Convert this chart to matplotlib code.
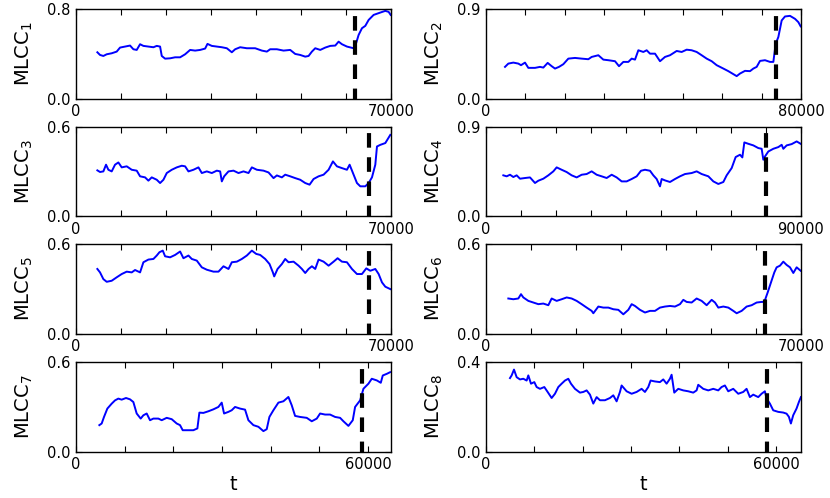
import matplotlib
matplotlib.use("Agg")
import matplotlib.pyplot as plt
from matplotlib.ticker import FixedLocator, FuncFormatter

# ---------------- data ----------------
t1 = [4746, 5339, 6080, 6822, 7934, 9046, 9788, 10900, 12012, 12754, 13495, 14237, 14978, 16090,
      17203, 17944, 18686, 19057, 19798, 20910, 22023, 23135, 24247, 25359, 26471, 27584, 28696,
      29215, 30179, 31291, 32403, 33515, 34627, 35369, 36481, 37965, 39818, 41302, 42414, 43155,
      44638, 46121, 47604, 48717, 49829, 50941, 51683, 52424, 53165, 54278, 55390, 56502, 57615,
      58356, 59098, 60210, 61693, 62286, 62805, 63547, 64288, 65030, 66142, 67625, 68737, 69478, 69923]
v1 = [0.415, 0.391, 0.382, 0.397, 0.406, 0.421, 0.457, 0.466, 0.475, 0.442, 0.436, 0.487, 0.472, 0.466,
      0.460, 0.472, 0.466, 0.382, 0.358, 0.361, 0.370, 0.370, 0.397, 0.436, 0.430, 0.436, 0.448,
      0.490, 0.472, 0.466, 0.460, 0.451, 0.415, 0.442, 0.460, 0.451, 0.451, 0.430, 0.421, 0.442,
      0.442, 0.430, 0.436, 0.400, 0.391, 0.376, 0.382, 0.421, 0.451, 0.436, 0.457, 0.472, 0.475,
      0.510, 0.487, 0.466, 0.451, 0.501, 0.570, 0.630, 0.651, 0.704, 0.749, 0.770, 0.785, 0.776, 0.749]

t2 = [4826, 5672, 6942, 8212, 8889, 9905, 10752, 12445, 13715, 14562, 15662, 16678, 17525, 18541,
      19641, 20911, 22604, 24297, 25991, 26837, 28530, 29800, 31070, 32763, 33779, 34880, 36150,
      36996, 37843, 38690, 39960, 40806, 41653, 42923, 44193, 45462, 46732, 48426, 49695, 50965,
      52235, 53505, 54775, 56045, 57315, 58585, 60278, 61548, 62818, 63664, 64511, 65781, 67051,
      67897, 68744, 69591, 70860, 72130, 72977, 73570, 74247, 75093, 75940, 77210, 78480, 79326, 79919]
v2 = [0.320, 0.353, 0.363, 0.353, 0.337, 0.363, 0.310, 0.310, 0.320, 0.313, 0.360, 0.327, 0.303, 0.320,
      0.347, 0.403, 0.410, 0.403, 0.397, 0.420, 0.437, 0.393, 0.387, 0.377, 0.327, 0.370, 0.370,
      0.403, 0.393, 0.487, 0.470, 0.487, 0.453, 0.453, 0.377, 0.420, 0.437, 0.480, 0.470, 0.493,
      0.487, 0.470, 0.437, 0.403, 0.377, 0.337, 0.303, 0.277, 0.247, 0.227, 0.253, 0.280, 0.277,
      0.303, 0.320, 0.380, 0.387, 0.370, 0.370, 0.553, 0.620, 0.787, 0.827, 0.833, 0.803, 0.770, 0.727]

t3 = [4746, 5339, 6080, 6674, 7193, 7934, 8676, 9417, 10159, 11271, 12383, 13495, 14237, 15349,
      16090, 16832, 17944, 18686, 19427, 20169, 21281, 22393, 23506, 24247, 24989, 26101, 27213,
      27955, 29067, 30179, 31291, 32033, 32404, 32923, 33886, 34999, 36111, 37223, 38336, 39077,
      40189, 41673, 42785, 43897, 44638, 45751, 46492, 47604, 48717, 49829, 50941, 51905, 52795,
      53907, 55019, 56132, 57096, 57985, 59098, 60210, 60803, 61545, 62434, 63176, 64288, 65030,
      65771, 66513, 66884, 67625, 68737, 69849]
v3 = [0.308, 0.297, 0.301, 0.346, 0.312, 0.301, 0.346, 0.361, 0.328, 0.335, 0.312, 0.306, 0.268, 0.261,
      0.239, 0.261, 0.245, 0.223, 0.245, 0.290, 0.312, 0.328, 0.339, 0.335, 0.301, 0.312, 0.328,
      0.290, 0.301, 0.290, 0.306, 0.301, 0.234, 0.268, 0.301, 0.306, 0.290, 0.301, 0.290, 0.328,
      0.312, 0.306, 0.294, 0.256, 0.274, 0.261, 0.279, 0.268, 0.256, 0.245, 0.223, 0.212, 0.250,
      0.268, 0.279, 0.312, 0.368, 0.335, 0.323, 0.312, 0.346, 0.290, 0.223, 0.201, 0.201, 0.223,
      0.261, 0.346, 0.468, 0.479, 0.491, 0.546]

t4 = [4952, 5905, 6857, 7810, 8762, 9714, 11143, 12572, 14000, 14953, 16381, 17810, 19238, 20191,
      21619, 23048, 24477, 25905, 27334, 28762, 30191, 31620, 33048, 34477, 35905, 37334, 38763,
      40191, 41620, 43048, 44287, 45429, 46858, 47810, 48763, 49715, 50191, 51144, 52572, 54001,
      55430, 56858, 58763, 60192, 61620, 63525, 64954, 66382, 67811, 68763, 70192, 71335, 72573,
      73240, 73811, 74954, 76382, 77811, 78763, 79240, 79716, 80668, 82097, 83525, 84478, 84954,
      85907, 87335, 88764, 89907]
v4 = [0.412, 0.402, 0.418, 0.395, 0.412, 0.378, 0.385, 0.391, 0.335, 0.358, 0.378, 0.412, 0.452, 0.492,
      0.468, 0.445, 0.412, 0.391, 0.418, 0.425, 0.452, 0.418, 0.402, 0.385, 0.418, 0.391, 0.351,
      0.351, 0.375, 0.402, 0.458, 0.468, 0.458, 0.412, 0.375, 0.301, 0.375, 0.361, 0.345, 0.375,
      0.402, 0.425, 0.435, 0.452, 0.425, 0.402, 0.351, 0.325, 0.345, 0.412, 0.485, 0.596, 0.619,
      0.592, 0.743, 0.729, 0.713, 0.686, 0.679, 0.569, 0.602, 0.652, 0.679, 0.696, 0.719, 0.679,
      0.713, 0.726, 0.753, 0.729]

t5 = [4746, 5339, 6080, 6822, 7934, 9046, 10159, 11271, 12383, 13125, 14237, 14978, 16090, 17203,
      17944, 18538, 19279, 19798, 20910, 22023, 23135, 23876, 24989, 25730, 26842, 27955, 29067,
      30550, 31662, 32774, 33886, 34627, 35740, 36852, 37965, 39077, 40041, 40931, 42043, 43007,
      43749, 44045, 44787, 45751, 46492, 47234, 48346, 49458, 50200, 50941, 51683, 52424, 53166,
      53907, 55019, 56132, 57244, 58134, 59098, 60210, 61322, 62434, 63547, 64511, 65400, 66513,
      67254, 67996, 68737, 69849]
v5 = [0.434, 0.411, 0.366, 0.348, 0.355, 0.378, 0.400, 0.416, 0.411, 0.427, 0.411, 0.479, 0.497, 0.501,
      0.524, 0.546, 0.557, 0.519, 0.512, 0.528, 0.551, 0.506, 0.524, 0.501, 0.490, 0.445, 0.429,
      0.416, 0.416, 0.452, 0.434, 0.479, 0.483, 0.501, 0.524, 0.557, 0.535, 0.528, 0.501, 0.467,
      0.411, 0.384, 0.434, 0.467, 0.501, 0.479, 0.483, 0.456, 0.434, 0.407, 0.434, 0.452, 0.434,
      0.497, 0.483, 0.456, 0.483, 0.506, 0.483, 0.479, 0.434, 0.400, 0.400, 0.438, 0.422, 0.434,
      0.400, 0.344, 0.315, 0.299]

t6 = [4963, 6074, 7185, 7777, 8296, 9407, 10518, 11629, 12740, 13851, 14592, 15703, 16814, 17925,
      19036, 20147, 21258, 22369, 23480, 23851, 24962, 26073, 27184, 28295, 29406, 30517, 31628,
      32369, 33109, 34220, 35331, 36442, 37553, 38665, 39776, 40887, 41998, 43109, 43849, 44590,
      45701, 46812, 47923, 49034, 50145, 50886, 51627, 52738, 53849, 54960, 55701, 56812, 57923,
      59034, 60145, 61256, 61848, 62589, 63330, 64071, 64589, 65330, 66070, 66811, 67552, 68293,
      69033, 69922]
v6 = [0.236, 0.231, 0.236, 0.265, 0.243, 0.220, 0.209, 0.198, 0.202, 0.191, 0.236, 0.220, 0.231, 0.243,
      0.236, 0.220, 0.198, 0.175, 0.153, 0.137, 0.182, 0.175, 0.175, 0.164, 0.160, 0.130, 0.160,
      0.198, 0.186, 0.160, 0.142, 0.153, 0.153, 0.175, 0.182, 0.186, 0.182, 0.198, 0.227, 0.213,
      0.209, 0.236, 0.220, 0.191, 0.227, 0.209, 0.175, 0.182, 0.175, 0.153, 0.137, 0.153, 0.182,
      0.191, 0.209, 0.213, 0.213, 0.276, 0.344, 0.411, 0.445, 0.456, 0.483, 0.461, 0.445, 0.407,
      0.445, 0.422]

t7 = [4794, 5274, 5753, 6438, 7328, 8013, 8698, 9383, 10274, 11095, 11780, 12465, 13287, 13835,
      14520, 15205, 15890, 16917, 17602, 18629, 19657, 20684, 21369, 21917, 23081, 24108, 24930,
      25341, 26163, 27191, 28218, 29245, 29930, 30410, 31300, 31985, 32670, 33697, 34724, 35409,
      36437, 37464, 38491, 39176, 39724, 40546, 41573, 42601, 43628, 44313, 44998, 46025, 47395,
      48422, 49450, 50135, 51162, 52189, 53217, 54244, 54929, 55956, 56847, 57326, 58353, 59038,
      60066, 60751, 61778, 62600, 63011, 63833, 64518]
v7 = [0.178, 0.189, 0.233, 0.289, 0.322, 0.344, 0.356, 0.349, 0.360, 0.351, 0.333, 0.256, 0.222, 0.244,
      0.256, 0.211, 0.222, 0.222, 0.211, 0.227, 0.218, 0.189, 0.178, 0.144, 0.144, 0.144, 0.156,
      0.262, 0.260, 0.271, 0.284, 0.300, 0.329, 0.256, 0.267, 0.278, 0.300, 0.289, 0.282, 0.211,
      0.178, 0.167, 0.138, 0.151, 0.233, 0.278, 0.329, 0.338, 0.367, 0.311, 0.240, 0.233, 0.227,
      0.204, 0.222, 0.256, 0.249, 0.249, 0.233, 0.227, 0.204, 0.173, 0.211, 0.300, 0.344, 0.422,
      0.456, 0.489, 0.478, 0.462, 0.511, 0.522, 0.533]

t8 = [4966, 5311, 5793, 6345, 7035, 7725, 8414, 8759, 9311, 10001, 10483, 11173, 12070, 12759,
      13587, 14277, 14966, 15656, 16346, 17036, 17587, 18415, 19450, 20139, 20829, 21519, 22208,
      22898, 23588, 24622, 25657, 26347, 27036, 27726, 28071, 29105, 30140, 31174, 32209, 32899,
      33588, 34071, 34968, 36002, 36692, 37382, 38071, 38416, 38968, 39796, 40830, 41865, 42899,
      43589, 43934, 44968, 46003, 47038, 48072, 48762, 49451, 50141, 51176, 52210, 53245, 53935,
      54624, 55314, 56348, 57038, 57728, 58073, 58762, 59452, 60487, 61521, 62211, 62694, 63108,
      63590, 64280, 64763, 65177]
v8 = [0.329, 0.341, 0.367, 0.333, 0.323, 0.326, 0.318, 0.341, 0.304, 0.311, 0.289, 0.281, 0.289, 0.267,
      0.240, 0.259, 0.289, 0.304, 0.318, 0.326, 0.304, 0.281, 0.264, 0.267, 0.274, 0.255, 0.215,
      0.244, 0.230, 0.230, 0.240, 0.252, 0.225, 0.267, 0.296, 0.270, 0.259, 0.267, 0.281, 0.267,
      0.289, 0.318, 0.314, 0.311, 0.323, 0.304, 0.326, 0.344, 0.264, 0.281, 0.274, 0.270, 0.264,
      0.274, 0.299, 0.281, 0.274, 0.281, 0.274, 0.289, 0.296, 0.270, 0.281, 0.259, 0.267, 0.281,
      0.244, 0.255, 0.244, 0.259, 0.270, 0.237, 0.215, 0.185, 0.178, 0.175, 0.170, 0.156, 0.126,
      0.163, 0.193, 0.222, 0.244]

series_t = [t1, t2, t3, t4, t5, t6, t7, t8]
series_v = [v1, v2, v3, v4, v5, v6, v7, v8]
change_points = [62100, 73600, 65100, 80100, 65000, 62000, 58700, 58200]
x_max = [70000, 80000, 70000, 90000, 70000, 70000, 64700, 65200]
y_max = [0.8, 0.9, 0.6, 0.9, 0.6, 0.6, 0.6, 0.4]
labels = ["MLCC$_{%d}$" % (i + 1) for i in range(8)]
x_label = "t"

# ---------------- style ----------------
plt.rcParams.update({
    "font.family": ["DejaVu Sans"],
    "xtick.direction": "in",
    "ytick.direction": "in",
    "xtick.top": True,
    "ytick.right": True,
    "xtick.major.size": 4,
    "ytick.major.size": 4,
    "xtick.major.width": 0.8,
    "ytick.major.width": 0.8,
    "axes.linewidth": 1.0,
    "xtick.labelsize": 10.5,
    "ytick.labelsize": 10.5,
    "xtick.major.pad": 4,
    "ytick.major.pad": 4,
})

W, H = 830, 498
fig = plt.figure(figsize=(W / 100, H / 100), dpi=100)
col_left = [76, 486]
row_bottom = [98.7, 216.3, 333.7, 451.7]
ax_w, ax_h = 315, 89.5

for i in range(8):
    r, c = divmod(i, 2)
    ax = fig.add_axes([col_left[c] / W, 1 - row_bottom[r] / H, ax_w / W, ax_h / H])
    ax.plot(series_t[i], series_v[i], color="#0000ff", lw=1.4, zorder=2)
    ax.axvline(change_points[i], color="black", lw=3,
               linestyle=(1.0, (3.5, 2.3)), zorder=3)
    ax.set_xlim(0, x_max[i])
    ax.set_ylim(0, y_max[i])
    xt = list(range(0, int(x_max[i]) + 1, 10000))
    ax.xaxis.set_major_locator(FixedLocator(xt))
    last = xt[-1]
    ax.xaxis.set_major_formatter(FuncFormatter(
        lambda v, p, last=last: "%d" % v if (v == 0 or v == last) else ""))
    ax.yaxis.set_major_locator(FixedLocator([0, y_max[i]]))
    ax.yaxis.set_major_formatter(FuncFormatter(lambda v, p: "%.1f" % v))
    ax.set_ylabel(labels[i], fontsize=14)
    ax.yaxis.set_label_coords(-0.13, 0.5)
    if r == 3:
        ax.set_xlabel(x_label, fontsize=14, labelpad=2)

fig.savefig("out.png", dpi=100)
